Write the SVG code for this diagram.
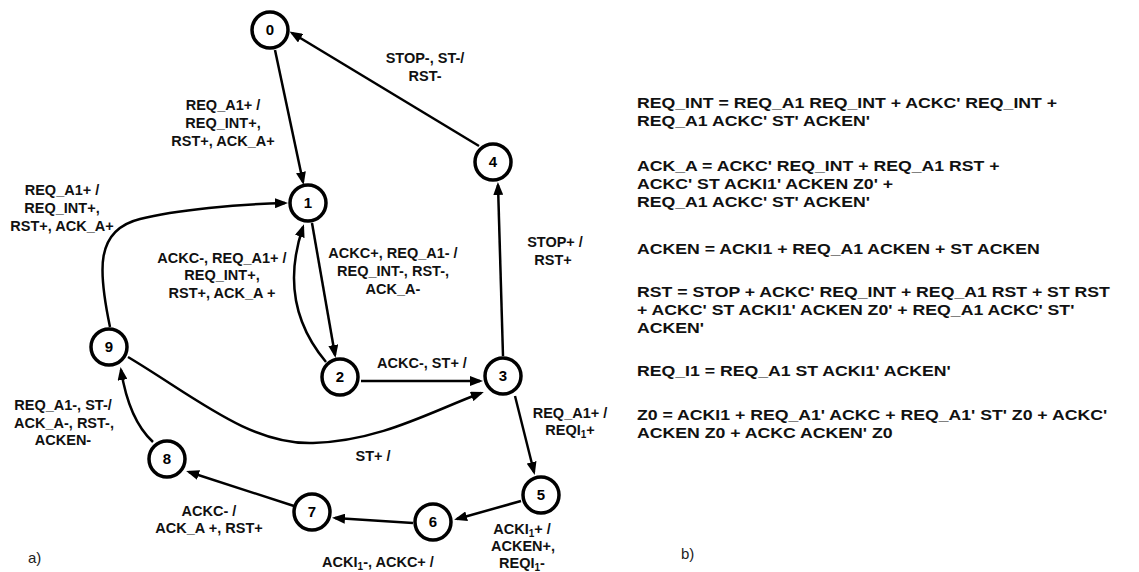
<svg xmlns="http://www.w3.org/2000/svg" width="1139" height="572" viewBox="0 0 1139 572">
<style>
.node circle{fill:#fff;stroke:#000;stroke-width:3.5}
.node text{font-family:"Liberation Sans",Arial,sans-serif;font-weight:bold;font-size:15px;text-anchor:middle;fill:#000}
.edge{fill:none;stroke:#000;stroke-width:2.5;marker-end:url(#arr)}
.lbl{font-family:"Liberation Sans",Arial,sans-serif;font-weight:bold;font-size:14.5px;text-anchor:middle;fill:#111}
.eq{font-family:"Liberation Sans",Arial,sans-serif;font-weight:bold;font-size:15.5px;fill:#111}
.cap{font-family:"Liberation Sans",Arial,sans-serif;font-size:15px;fill:#222}
</style>
<defs>
<marker id="arr" markerUnits="userSpaceOnUse" markerWidth="13" markerHeight="10" refX="10" refY="5" orient="auto">
<path d="M0,0 L13,5 L0,10 z" fill="#000"/>
</marker>
</defs>
<rect width="1139" height="572" fill="#fff"/>
<g id="connectors">
<path class="edge" d="M275,50 L303,182"/>
<path class="edge" d="M479,146 L292,33"/>
<path class="edge" d="M503,356 L498,185"/>
<path class="edge" d="M312,223 L335,355"/>
<path class="edge" d="M326,362 C295,325 285,280 303,227"/>
<path class="edge" d="M361,381 L480,381"/>
<path class="edge" d="M110,327 C98,270 95,230 140,219 C175,210 240,204 285,203"/>
<path class="edge" d="M128,357 C195,397 250,445 313,443 C380,441 430,412 481,393"/>
<path class="edge" d="M515,396 L534,472"/>
<path class="edge" d="M521,501 L457,519"/>
<path class="edge" d="M413,523 L335,518"/>
<path class="edge" d="M294,506 L189,472"/>
<path class="edge" d="M153,442 Q129,420 121,370"/>
</g>
<g id="labels">
<text class="lbl" x="223" y="110">REQ_A1+ /</text>
<text class="lbl" x="223" y="128">REQ_INT+,</text>
<text class="lbl" x="223" y="146">RST+, ACK_A+</text>
<text class="lbl" x="62" y="195">REQ_A1+ /</text>
<text class="lbl" x="62" y="213">REQ_INT+,</text>
<text class="lbl" x="62" y="231">RST+, ACK_A+</text>
<text class="lbl" x="425" y="63">STOP-, ST-/</text>
<text class="lbl" x="425" y="81">RST-</text>
<text class="lbl" x="222" y="263">ACKC-, REQ_A1+ /</text>
<text class="lbl" x="222" y="280">REQ_INT+,</text>
<text class="lbl" x="222" y="298">RST+, ACK_A +</text>
<text class="lbl" x="393" y="258">ACKC+, REQ_A1- /</text>
<text class="lbl" x="393" y="276">REQ_INT-, RST-,</text>
<text class="lbl" x="393" y="294">ACK_A-</text>
<text class="lbl" x="555" y="247">STOP+ /</text>
<text class="lbl" x="553" y="265">RST+</text>
<text class="lbl" x="422" y="368">ACKC-, ST+ /</text>
<text class="lbl" x="570" y="418">REQ_A1+ /</text>
<text class="lbl" x="570" y="435">REQI<tspan font-size="10" dy="3">1</tspan><tspan dy="-3">+</tspan></text>
<text class="lbl" x="373" y="461">ST+ /</text>
<text class="lbl" x="522" y="534">ACKI<tspan font-size="10" dy="3">1</tspan><tspan dy="-3">+ /</tspan></text>
<text class="lbl" x="523" y="551">ACKEN+,</text>
<text class="lbl" x="522" y="568">REQI<tspan font-size="10" dy="3">1</tspan><tspan dy="-3">-</tspan></text>
<text class="lbl" x="378" y="567">ACKI<tspan font-size="10" dy="3">1</tspan><tspan dy="-3">-, ACKC+ /</tspan></text>
<text class="lbl" x="209" y="516">ACKC- /</text>
<text class="lbl" x="209" y="533">ACK_A +, RST+</text>
<text class="lbl" x="63" y="410">REQ_A1-, ST-/</text>
<text class="lbl" x="64" y="428">ACK_A-, RST-,</text>
<text class="lbl" x="63" y="445">ACKEN-</text>
</g>
<g id="node0" class="node"><circle cx="270" cy="30" r="18"/><text x="270" y="35">0</text></g>
<g id="node1" class="node"><circle cx="308" cy="203" r="18"/><text x="308" y="208">1</text></g>
<g id="node2" class="node"><circle cx="340" cy="377" r="18"/><text x="340" y="382">2</text></g>
<g id="node3" class="node"><circle cx="503" cy="376" r="18"/><text x="503" y="381">3</text></g>
<g id="node4" class="node"><circle cx="493" cy="162" r="18"/><text x="493" y="167">4</text></g>
<g id="node5" class="node"><circle cx="541" cy="495" r="18"/><text x="541" y="500">5</text></g>
<g id="node6" class="node"><circle cx="433" cy="522" r="18"/><text x="433" y="527">6</text></g>
<g id="node7" class="node"><circle cx="312" cy="512" r="18"/><text x="312" y="517">7</text></g>
<g id="node8" class="node"><circle cx="167" cy="459" r="18"/><text x="167" y="464">8</text></g>
<g id="node9" class="node"><circle cx="109" cy="347" r="18"/><text x="109" y="352">9</text></g>
<g id="equations" transform="translate(637,0) scale(1.14,1)">
<text class="eq" x="0" y="108">REQ_INT = REQ_A1 REQ_INT + ACKC' REQ_INT +</text>
<text class="eq" x="0" y="126">REQ_A1 ACKC' ST' ACKEN'</text>
<text class="eq" x="0" y="171">ACK_A = ACKC' REQ_INT + REQ_A1 RST +</text>
<text class="eq" x="0" y="189">ACKC' ST ACKI1' ACKEN Z0' +</text>
<text class="eq" x="0" y="207">REQ_A1 ACKC' ST' ACKEN'</text>
<text class="eq" x="0" y="254">ACKEN = ACKI1 + REQ_A1 ACKEN + ST ACKEN</text>
<text class="eq" x="0" y="297">RST = STOP + ACKC' REQ_INT + REQ_A1 RST + ST RST</text>
<text class="eq" x="0" y="315">+ ACKC' ST ACKI1' ACKEN Z0' + REQ_A1 ACKC' ST'</text>
<text class="eq" x="0" y="333">ACKEN'</text>
<text class="eq" x="0" y="376">REQ_I1 = REQ_A1 ST ACKI1' ACKEN'</text>
<text class="eq" x="0" y="420">Z0 = ACKI1 + REQ_A1' ACKC + REQ_A1' ST' Z0 + ACKC'</text>
<text class="eq" x="0" y="438">ACKEN Z0 + ACKC ACKEN' Z0</text>
</g>
<text class="cap" x="28" y="563">a)</text>
<text class="cap" x="681" y="559">b)</text>
</svg>
